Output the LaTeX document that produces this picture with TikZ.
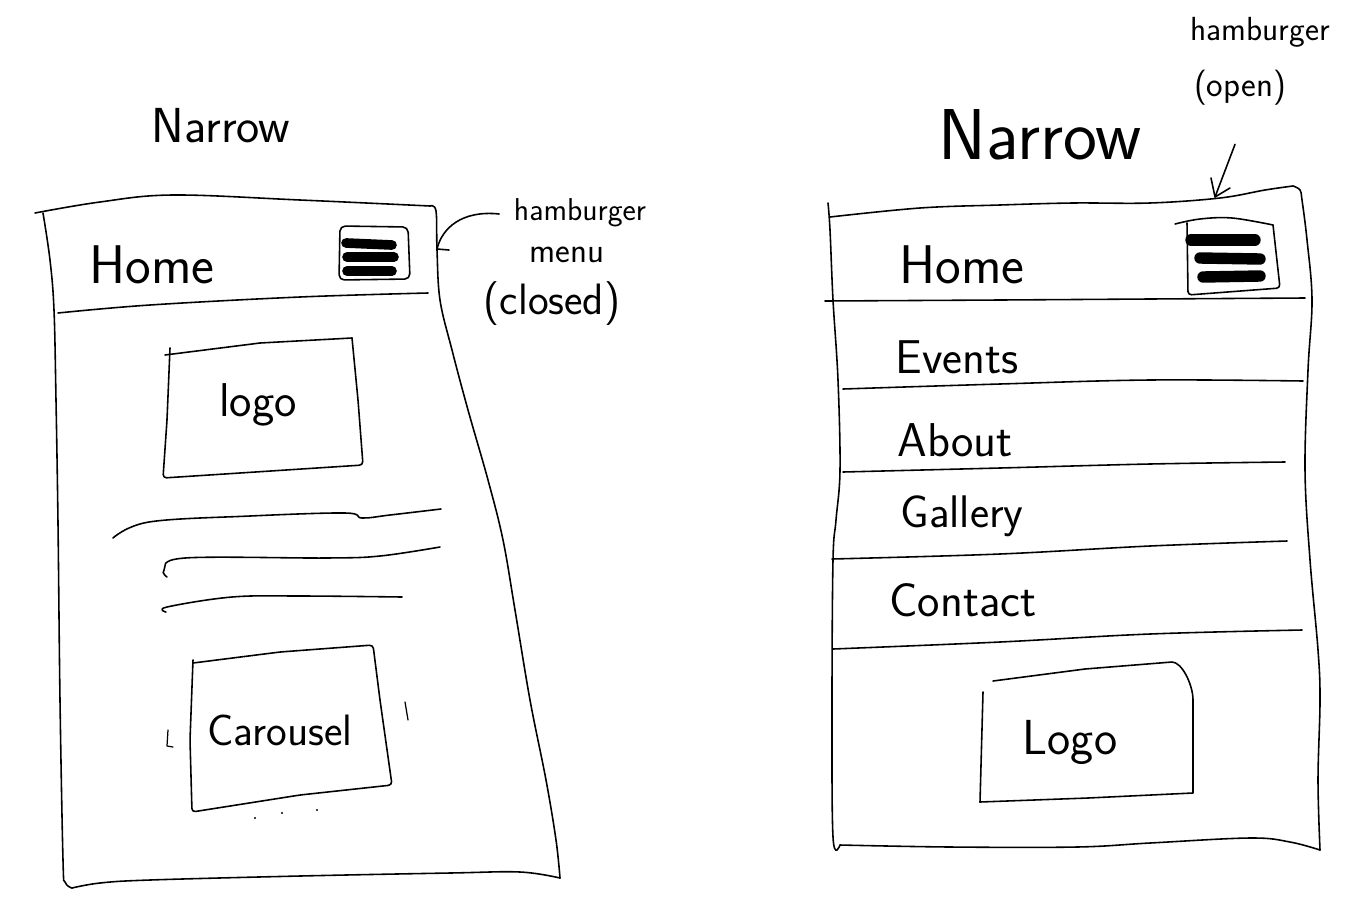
\documentclass[tikz,border=0pt]{standalone}
\usepackage{fontspec}
\begin{document}
\begin{tikzpicture}[x=0.02cm, y=-0.02cm, line width=0.9pt, line cap=round, line join=round,
  hand/.style={font=\sffamily, inner sep=0pt, anchor=center},
  bar/.style={line width=5.5pt, line cap=round},
  thin/.style={line width=0.7pt}]
\def\fs#1{\fontsize{#1}{#1}\selectfont}
\fill[white] (0,0) rectangle (1368,916);
\useasboundingbox (0,0) rectangle (1368,916);

% ---------------- left sketch: closed menu ----------------
\node[hand, font=\sffamily\fs{28}] (titleL) at (221,126) {Narrow};

% phone outline
\draw plot[smooth, tension=0.6] coordinates {(35,213) (100,202) (173,195) (300,200) (430,206)};
\draw plot[smooth, tension=0.6] coordinates {(430,206) (436,211) (437,250) (440,300) (452,350) (468,410) (488,480) (503,540) (515,610) (530,700) (546,780) (556,840) (560,878)};
\draw plot[smooth, tension=0.6] coordinates {(43,213) (50,260) (54,310) (56,400) (58,523) (60,700) (63,860) (65,882) (72,888)};
\draw plot[smooth, tension=0.6] coordinates {(72,888) (100,883) (150,880) (300,876) (450,873) (520,872) (560,878)};

% header
\draw plot[smooth, tension=0.6] coordinates {(58,313) (150,305) (300,297) (428,293)};
\node[hand, font=\sffamily\fs{31}] (homeL) at (152,265) {Home};
\draw[rounded corners=3pt] (340,226) -- (408,227) -- (410,279) -- (339,280) -- cycle;
\draw[bar] (346,243) -- (392,245);
\draw[bar] (347,257) -- (394,257);
\draw[bar] (347,271) -- (392,271);

% logo box
\draw (165,355) -- (260,343) -- (352,338);
\draw[rounded corners=2pt] (352,338) -- (358,400) -- (363,465) -- (163,478) -- (167,420) -- (170,348);
\node[hand, font=\sffamily\fs{27}] (logoL) at (258,405) {logo};

% paragraph scribbles
\draw plot[smooth, tension=0.6] coordinates {(113,538) (149,522) (250,516) (345,513) (362,518) (390,515) (441,509)};
\draw plot[smooth, tension=0.6] coordinates {(167,577) (164,570) (185,558) (326,558) (380,556) (440,547)};
\draw plot[smooth, tension=0.6] coordinates {(166,612) (167,607) (232,597) (300,596) (402,597)};

% carousel
\draw[rounded corners=2pt] (193,663) -- (280,652) -- (373,645) -- (380,700) -- (392,785) -- (300,795) -- (192,812) -- (190,740) -- (193,660);
\node[hand, font=\sffamily\fs{25}] (carousel) at (280,730) {Carousel};
\draw[thin] (168,730) -- (167,746) -- (173,747);
\draw[thin] (405,702) -- (408,720);
\fill (255,818) circle (1.2) (282,813) circle (1.2) (317,810) circle (1.2);

% annotation
\node[hand, font=\sffamily\fs{18}] (hamL) at (580,213) {hamburger};
\node[hand, font=\sffamily\fs{20}] (menuL) at (567,255) {menu};
\node[hand, font=\sffamily\fs{25}] (closedL) at (552,304) {(closed)};
\coordinate (tipL) at (437,249);
\draw ([shift={(-14,1)}]hamL.west) .. controls (462,210) and (442,228) .. (tipL) -- ++(12,1);

% ---------------- right sketch: open menu ----------------
\node[hand, font=\sffamily\fs{41}] (titleR) at (1040,135) {Narrow};

% phone outline
\draw plot[smooth, tension=0.6] coordinates {(830,217) (920,208) (1000,205) (1073,203) (1150,203) (1220,198) (1265,190) (1293,186)};
\draw plot[smooth, tension=0.6] coordinates {(1293,186) (1300,190) (1302,200) (1307,240) (1312,300) (1308,370) (1305,470) (1310,560) (1318,650) (1320,700) (1318,780) (1320,850)};
\draw plot[smooth, tension=0.6] coordinates {(828,203) (830,230) (833,300) (838,380) (840,470) (836,520) (833,560) (832,700) (833,837) (840,845)};
\draw plot[smooth, tension=0.6] coordinates {(840,845) (950,847) (1077,847) (1150,843) (1250,838) (1290,842) (1320,850)};

% header
\draw plot[smooth, tension=0.6] coordinates {(825,301) (1000,300) (1150,299) (1305,298)};
\node[hand, font=\sffamily\fs{31}] (homeR) at (962,265) {Home};
\draw plot[smooth, tension=0.6] coordinates {(1175,224) (1200,219) (1232,218) (1273,225)};
\draw[rounded corners=2pt] (1273,225) -- (1280,288) -- (1188,295) -- (1187,223);
\draw[bar, line width=6.5pt] (1191,240) -- (1255,240);
\draw[bar, line width=6.5pt] (1200,258) -- (1260,259);
\draw[bar, line width=6.5pt] (1203,277) -- (1260,276);

% menu entries
\node[hand, font=\sffamily\fs{27}] (events) at (957,357) {Events};
\draw plot[smooth, tension=0.6] coordinates {(843,389) (1000,384) (1150,380) (1303,381)};
\node[hand, font=\sffamily\fs{27}] (about) at (955,440) {About};
\draw plot[smooth, tension=0.6] coordinates {(843,472) (1000,468) (1150,464) (1285,462)};
\node[hand, font=\sffamily\fs{26}] (gallery) at (962,516) {Gallery};
\draw plot[smooth, tension=0.6] coordinates {(832,559) (1000,554) (1150,546) (1287,541)};
\node[hand, font=\sffamily\fs{27}] (contact) at (963,600) {Contact};
\draw plot[smooth, tension=0.6] coordinates {(833,649) (1000,642) (1150,634) (1302,630)};

% logo box
\draw (993,681) -- (1085,669) -- (1172,662) .. controls (1182,662) and (1193,685) .. (1193,700) -- (1193,793) -- (1088,798) -- (980,802);
\draw (980,802) -- (983,692);
\node[hand, font=\sffamily\fs{28}] (logoR) at (1070,742) {Logo};

% annotation
\node[hand, font=\sffamily\fs{19}] (hamR) at (1260,32) {hamburger};
\node[hand, font=\sffamily\fs{20}] (openR) at (1240,88) {(open)};
\coordinate (tipR) at (1215,197);
\draw ([shift={(-5,38)}]openR.south) -- (tipR);
\draw (1211,178) -- (tipR) -- (1230,188);
\end{tikzpicture}
\end{document}
